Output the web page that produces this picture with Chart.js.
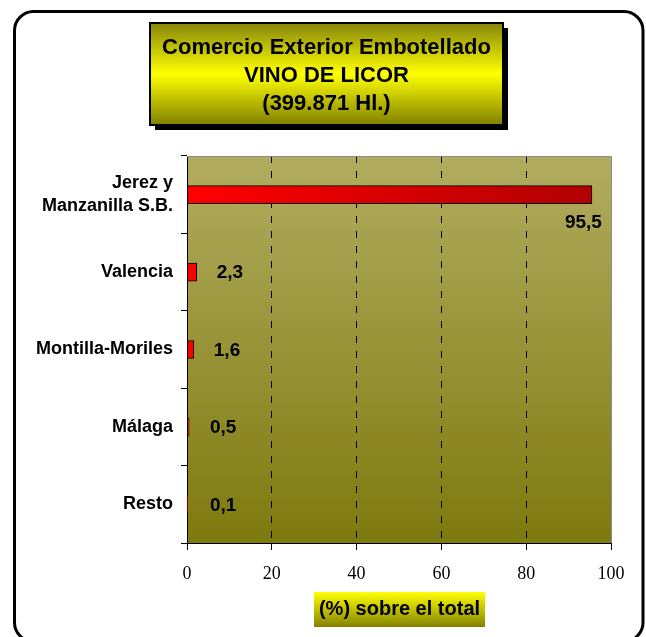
<!DOCTYPE html>
<html>
<head>
<meta charset="utf-8">
<script src="https://cdn.jsdelivr.net/npm/chart.js@4.4.1/dist/chart.umd.min.js"></script>
<style>
  html, body { margin: 0; padding: 0; background: #fff; }
  canvas { display: block; }
</style>
</head>
<body>
<canvas id="chart" width="646" height="637"></canvas>
<script>
// datos
var categorias = [["Jerez y", "Manzanilla S.B."], "Valencia", "Montilla-Moriles", "Málaga", "Resto"];
var porcentajes = [95.5, 2.3, 1.6, 0.5, 0.1];
var ticksX = [0, 20, 40, 60, 80, 100];
var tituloLineas = ["Comercio Exterior Embotellado", "VINO DE LICOR", "(399.871 Hl.)"];
var tituloEjeX = "(%) sobre el total";

function formatoComa(v){
  return v.toFixed(1).replace(".", ",");
}

function cajaDegradada(ctx, x, y, w, h, paradas, sombra){
  if(sombra){
    ctx.fillStyle = "#000";
    ctx.fillRect(x + 5, y + 5, w, h);
  }
  var g = ctx.createLinearGradient(0, y, 0, y + h);
  paradas.forEach(function(p){ g.addColorStop(p[0], p[1]); });
  ctx.fillStyle = g;
  ctx.fillRect(x, y, w, h);
}

var fondoPlugin = {
  id: "fondo",
  beforeDraw: function(chart){
    var ctx = chart.ctx, ca = chart.chartArea;
    ctx.save();
    ctx.fillStyle = "#fff";
    ctx.fillRect(0, 0, chart.width, chart.height);
    // marco redondeado
    ctx.lineWidth = 3;
    ctx.strokeStyle = "#000";
    ctx.beginPath();
    ctx.roundRect(14.5, 11.5, 628.5, 630, 19);
    ctx.stroke();
    // fondo del area de trazado
    var g = ctx.createLinearGradient(0, ca.top, 0, ca.bottom);
    g.addColorStop(0, "#b2ac60");
    g.addColorStop(1, "#7e7a0e");
    ctx.fillStyle = g;
    ctx.fillRect(ca.left, ca.top, ca.right - ca.left, ca.bottom - ca.top);
    ctx.restore();
  },
  afterDatasetsDraw: function(chart){
    var ctx = chart.ctx, ca = chart.chartArea;
    ctx.save();
    ctx.strokeStyle = "#8c8c8c";
    ctx.lineWidth = 1;
    ctx.beginPath();
    ctx.moveTo(ca.left, ca.top + 0.5);
    ctx.lineTo(ca.right + 0.5, ca.top + 0.5);
    ctx.lineTo(ca.right + 0.5, ca.bottom);
    ctx.stroke();
    ctx.restore();
  },
  afterDraw: function(chart){
    var ctx = chart.ctx;
    var meta = chart.getDatasetMeta(0);
    ctx.save();
    // etiquetas de datos
    ctx.fillStyle = "#000";
    ctx.font = "bold 19px 'Liberation Sans', Arial, sans-serif";
    ctx.textBaseline = "middle";
    meta.data.forEach(function(bar, i){
      var txt = formatoComa(porcentajes[i]);
      if(porcentajes[i] > 50){
        ctx.textAlign = "right";
        ctx.fillText(txt, bar.x + 10, bar.y + 28);
      }
      else{
        ctx.textAlign = "left";
        ctx.fillText(txt, Math.max(bar.x + 20, 210), bar.y + 1);
      }
    });

    // titulo
    var tx = 150, ty = 23, tw = 353, th = 102;
    cajaDegradada(ctx, tx, ty, tw, th, [[0, "#86860a"], [0.5, "#ffff00"], [1, "#808000"]], true);
    ctx.lineWidth = 2;
    ctx.strokeStyle = "#000";
    ctx.strokeRect(tx, ty, tw, th);
    ctx.fillStyle = "#000";
    ctx.font = "bold 22px 'Liberation Sans', Arial, sans-serif";
    ctx.textAlign = "center";
    tituloLineas.forEach(function(t, i){
      ctx.fillText(t, tx + tw / 2, 48 + i * 28);
    });

    // titulo del eje x
    cajaDegradada(ctx, 314, 592, 171, 35, [[0, "#ffff00"], [1, "#838300"]], false);
    ctx.fillStyle = "#000";
    ctx.font = "bold 20px 'Liberation Sans', Arial, sans-serif";
    ctx.fillText(tituloEjeX, 399.5, 609);
    ctx.restore();
  }
};

function rellenoBarra(c){
  var ca = c.chart.chartArea;
  if(!ca) return "#ff0000";
  var g = c.chart.ctx.createLinearGradient(ca.left, 0, ca.left + 410, 0);
  g.addColorStop(0, "#ff0000");
  g.addColorStop(1, "#b00000");
  return g;
}

function createChart(){
  var ctx = document.getElementById("chart").getContext("2d");
  window.vinoChart = new Chart(ctx, {
    type: "bar",
    data: {
      labels: categorias,
      datasets: [{
        data: porcentajes,
        backgroundColor: rellenoBarra,
        borderColor: "#000",
        borderWidth: 1,
        borderSkipped: false,
        barThickness: 18
      }]
    },
    options: {
      indexAxis: "y",
      responsive: false,
      animation: false,
      layout: { padding: { top: 156, right: 35, left: 0, bottom: 0 } },
      plugins: {
        legend: { display: false },
        title: { display: false },
        tooltip: { enabled: false }
      },
      scales: {
        x: {
          min: 0,
          max: 100,
          afterFit: function(s){ s.height = 94; },
          afterBuildTicks: function(s){
            s.ticks = ticksX.map(function(v){ return { value: v }; });
          },
          ticks: {
            color: "#000",
            padding: 13,
            font: { family: "'Liberation Serif', 'Times New Roman', serif", size: 18 }
          },
          grid: {
            color: function(c){
              var v = c.tick ? c.tick.value : 0;
              return (v === 0 || v === 100) ? "rgba(0,0,0,0)" : "#000";
            },
            tickColor: "#000",
            tickLength: 7
          },
          border: { color: "#000", dash: [7, 8] }
        },
        y: {
          afterFit: function(s){ s.width = 187; },
          ticks: {
            color: "#000",
            padding: 8,
            font: { family: "'Liberation Sans', Arial, sans-serif", size: 18, weight: "bold", lineHeight: 1.25 }
          },
          grid: {
            drawOnChartArea: false,
            tickColor: "#000",
            tickLength: 6
          },
          border: { color: "#000" }
        }
      }
    },
    plugins: [fondoPlugin]
  });
}

createChart();
</script>
</body>
</html>
